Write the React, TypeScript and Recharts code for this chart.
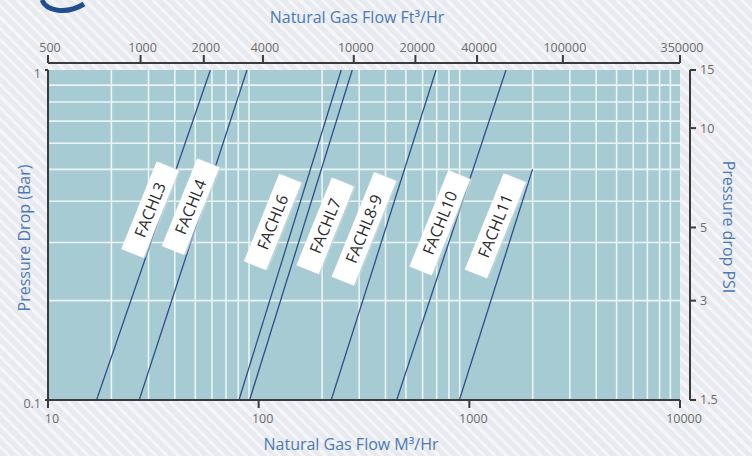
import React from "react";
import {
  ComposedChart,
  XAxis,
  YAxis,
  Line,
  Label,
  ReferenceArea,
  ReferenceLine,
  ReferenceDot,
} from "recharts";

// regulator models, one straight line each on the log-log chart
const models = ["FACHL3", "FACHL4", "FACHL6", "FACHL7", "FACHL8-9", "FACHL10", "FACHL11"];
// flow in M³/Hr at the lower (0.1 bar) end and at the upper end of each line
const startFlow = [17.0, 27.1, 80.6, 90.6, 221, 452, 897];
const startBar = [0.1, 0.1, 0.1, 0.1, 0.1, 0.1, 0.1];
const endFlow = [59.0, 88.0, 246.5, 278, 695, 1493, 1995];
const endBar = [1, 1, 1, 1, 1, 1, 0.5];
// anchor (flow, bar) of each white name tag
const tagFlow = [30.5, 47.5, 116.5, 207, 316, 725, 1328];
const tagBar = [0.377, 0.385, 0.346, 0.337, 0.33, 0.344, 0.337];

const m3Ticks = [10, 100, 1000, 10000];
const ft3Labels = ["500", "1000", "2000", "4000", "10000", "20000", "40000", "100000", "350000"];
// where the Ft³/Hr labels sit on the M³/Hr scale
const ft3TickAt = [10, 27.5, 54.9, 104.8, 282.9, 554.6, 1088, 2780, 10000];
const barTicks = [0.1, 1];
const psiLabels = ["15", "10", "5", "3", "1.5"];
const psiTickAt = [1, 0.6667, 0.3333, 0.2, 0.1];

const minorFlow = [
  20, 30, 40, 50, 60, 70, 80, 90,
  200, 300, 400, 500, 600, 700, 800, 900,
  2000, 3000, 4000, 5000, 6000, 7000, 8000, 9000,
];
const minorBar = [0.2, 0.3, 0.4, 0.5, 0.6, 0.7, 0.8, 0.9];

const series = models.map((name, i) => ({
  name,
  points: [
    { flow: startFlow[i], bar: startBar[i] },
    { flow: endFlow[i], bar: endBar[i] },
  ],
}));

const AXIS = "#3b3b3b";
const TICK_TEXT = "#6b6b6b";
const TITLE = "#4b79b6";
const GRID = "#eaf4f5";
const TICK_FONT = 12.5;
const TITLE_FONT = 16;

const Tag = ({ cx, cy, text }: { cx: number; cy: number; text: string }) => {
  const w = text.length * 9.4 + 38;
  return (
    <g transform={`translate(${cx},${cy}) rotate(-68)`}>
      <rect x={-w / 2 + 1} y={-10} width={w} height={24} fill="#c9d9de" opacity={0.6} />
      <rect x={-w / 2} y={-12} width={w} height={24} fill="#ffffff" />
      <text x={0} y={0} dy="0.36em" textAnchor="middle" fontSize={16} fill="#2a2a2a">
        {text}
      </text>
    </g>
  );
};

// rotated axis title placed inside the axis box
const sideTitle = (text: string, angle: number, fromLeft: number | null, fromRight: number | null, shift: number) =>
  (props: any) => {
    const vb = props.viewBox;
    const x = fromLeft != null ? vb.x + fromLeft : vb.x + vb.width - (fromRight as number);
    const y = vb.y + vb.height / 2 + shift;
    return (
      <text
        x={x}
        y={y}
        transform={`rotate(${angle},${x},${y})`}
        textAnchor="middle"
        dominantBaseline="central"
        fill={TITLE}
        fontSize={TITLE_FONT}
      >
        {text}
      </text>
    );
  };

export default function App() {
  return (
    <div
      style={{
        position: "absolute",
        left: 0,
        top: 0,
        width: 752,
        height: 456,
        fontFamily: "'Open Sans', sans-serif",
        background:
          "repeating-linear-gradient(45deg, #e8eaef 0px, #e8eaef 5px, #f4f5f8 5px, #f4f5f8 8px)",
      }}
    >
      <svg width={100} height={16} style={{ position: "absolute", left: 0, top: 0 }}>
        <path d="M42 0 C46 11 66 15 84 4" stroke="#1f4f8f" strokeWidth={5} fill="none" />
      </svg>
      <ComposedChart width={752} height={456} margin={{ top: 0, right: 0, bottom: 0, left: 0 }}>
        <XAxis
          xAxisId="m3"
          type="number"
          dataKey="flow"
          scale="log"
          domain={[10, 10000]}
          allowDataOverflow
          ticks={m3Ticks}
          interval={0}
          height={56}
          axisLine={{ stroke: AXIS, strokeWidth: 2 }}
          tickLine={{ stroke: AXIS, strokeWidth: 2 }}
          tickSize={8}
          tickMargin={6}
          tick={{ fill: TICK_TEXT, fontSize: TICK_FONT, dx: 4 }}
          tickFormatter={(v: number) => String(v)}
        >
          <Label value="Natural Gas Flow M³/Hr" position="insideBottom" offset={6} dx={-13} fill={TITLE} fontSize={TITLE_FONT} />
        </XAxis>
        <XAxis
          xAxisId="ft3"
          orientation="top"
          type="number"
          dataKey="flow"
          scale="log"
          domain={[10, 10000]}
          allowDataOverflow
          ticks={ft3TickAt}
          interval={0}
          height={70}
          axisLine={{ stroke: AXIS, strokeWidth: 2, transform: "translate(0,-7)" }}
          tickLine={{ stroke: AXIS, strokeWidth: 2, transform: "translate(0,-7)" }}
          tickSize={8}
          tickMargin={3}
          tick={{ fill: TICK_TEXT, fontSize: TICK_FONT, dy: -7, dx: 2 }}
          tickFormatter={(v: number) => ft3Labels[ft3TickAt.indexOf(v)]}
        >
          <Label value="Natural Gas Flow Ft³/Hr" position="insideTop" offset={12} dx={-7} fill={TITLE} fontSize={TITLE_FONT} />
        </XAxis>
        <YAxis
          yAxisId="bar"
          type="number"
          dataKey="bar"
          scale="log"
          domain={[0.1, 1]}
          allowDataOverflow
          ticks={barTicks}
          interval={0}
          width={48}
          axisLine={{ stroke: AXIS, strokeWidth: 2 }}
          tickLine={{ stroke: AXIS, strokeWidth: 2 }}
          tickSize={3}
          tickMargin={4}
          tick={{ fill: TICK_TEXT, fontSize: TICK_FONT, dy: 4 }}
          tickFormatter={(v: number) => String(v)}
        >
          <Label content={sideTitle("Pressure Drop (Bar)", -90, 24, null, 3)} />
        </YAxis>
        <YAxis
          yAxisId="psi"
          orientation="right"
          type="number"
          scale="log"
          domain={[0.1, 1]}
          allowDataOverflow
          ticks={psiTickAt}
          interval={0}
          width={72}
          axisLine={{ stroke: AXIS, strokeWidth: 2, transform: "translate(10,0)" }}
          tickLine={{ stroke: AXIS, strokeWidth: 2, transform: "translate(10,0)" }}
          tickSize={6}
          tickMargin={4}
          tick={{ fill: TICK_TEXT, fontSize: TICK_FONT, dx: 10 }}
          tickFormatter={(v: number) => psiLabels[psiTickAt.indexOf(v)]}
        >
          <Label content={sideTitle("Pressure drop PSI", 90, null, 23, -8)} />
        </YAxis>

        <ReferenceArea
          xAxisId="m3"
          yAxisId="bar"
          x1={10}
          x2={10000}
          y1={0.1}
          y2={1}
          fill="#a7cbd2"
          fillOpacity={1}
          stroke="none"
        />
        {minorFlow.map((v) => (
          <ReferenceLine key={`vx${v}`} xAxisId="m3" yAxisId="bar" x={v} stroke={GRID} strokeWidth={1.6} />
        ))}
        {minorBar.map((v) => (
          <ReferenceLine key={`hy${v}`} xAxisId="m3" yAxisId="bar" y={v} stroke={GRID} strokeWidth={1.6} />
        ))}
        {models.map((m, i) => (
          <ReferenceDot
            key={`tag${m}`}
            xAxisId="m3"
            yAxisId="bar"
            x={tagFlow[i]}
            y={tagBar[i]}
            r={1}
            shape={(p: any) => <Tag cx={p.cx} cy={p.cy} text={m} />}
          />
        ))}
        {series.map((s) => (
          <Line
            key={s.name}
            xAxisId="m3"
            yAxisId="bar"
            data={s.points}
            dataKey="bar"
            type="linear"
            stroke="#2b4f8e"
            strokeWidth={1.3}
            dot={false}
            isAnimationActive={false}
          />
        ))}
        {/* same lines again on the Ft³ axis, invisible, so that axis has data */}
        {series.map((s) => (
          <Line
            key={`ft-${s.name}`}
            xAxisId="ft3"
            yAxisId="psi"
            data={s.points}
            dataKey="bar"
            type="linear"
            stroke="none"
            dot={false}
            activeDot={false}
            legendType="none"
            isAnimationActive={false}
          />
        ))}
      </ComposedChart>
    </div>
  );
}
